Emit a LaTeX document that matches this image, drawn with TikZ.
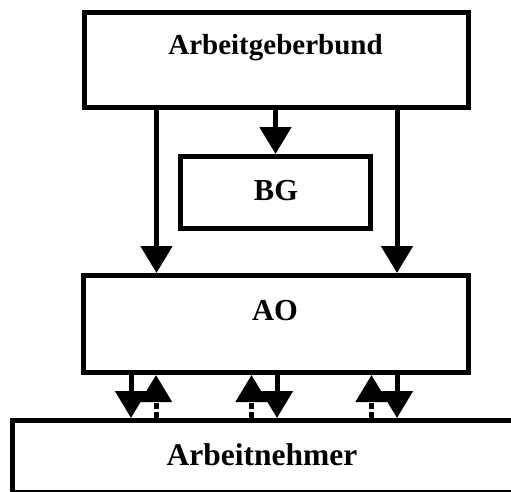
\documentclass[tikz,border=0pt]{standalone}
\usepackage{fontspec}
\setmainfont{Liberation Serif}
\usetikzlibrary{arrows.meta}
\begin{document}
\begin{tikzpicture}[x=1pt,y=-1pt,
  box/.style={draw, line width=5pt, inner sep=0pt},
  lbl/.style={font=\bfseries\fontsize{#1}{#1}\selectfont, anchor=base, inner sep=0pt},
  lbl/.default=29,
  arr/.style={line width=5pt, -{Triangle[length=27pt,width=31pt]}},
  back/.style={arr, dash pattern=on 6pt off 3pt}]
\useasboundingbox (0,0) rectangle (511,491);
\clip (0,0) rectangle (511,491);
% boxes
\node[box, minimum width=384pt, minimum height=95pt] (bund) at (276,60) {};
\node[box, minimum width=190pt, minimum height=72pt] (bg) at (275.5,192.5) {};
\node[box, minimum width=385pt, minimum height=97pt] (ao) at (275.5,324) {};
\node[box, minimum width=508pt, minimum height=71.5pt] (an) at (266,456.25) {};
% labels
\node[lbl=29] (tbund) at (275.5,54) {Arbeitgeberbund};
\node[lbl=30.5] (tbg) at (276,200) {BG};
\node[lbl=30.5] (tao) at (275,320) {AO};
\node[lbl=31.5] (tan) at (262,465) {Arbeitnehmer};
% Arbeitgeberbund to BG and AO
\draw[arr] ([xshift=-119.5pt]bund.south) -- ([xshift=-119pt]ao.north);
\draw[arr] (bund.south -| bg.north) -- (bg.north);
\draw[arr] ([xshift=121pt]bund.south) -- ([xshift=121.5pt]ao.north);
% AO to Arbeitnehmer (solid) and back (dashed)
\draw[arr] ([xshift=-144.5pt]ao.south) -- ([xshift=-135pt]an.north);
\draw[arr] ([xshift=1.5pt]ao.south) -- ([xshift=11pt]an.north);
\draw[arr] ([xshift=121.5pt]ao.south) -- ([xshift=131pt]an.north);
\draw[back] ([xshift=-110pt]an.north) -- ([xshift=-119.5pt]ao.south);
\draw[back] ([xshift=-14.5pt]an.north) -- ([xshift=-24pt]ao.south);
\draw[back] ([xshift=105.5pt]an.north) -- ([xshift=96pt]ao.south);
\end{tikzpicture}
\end{document}
